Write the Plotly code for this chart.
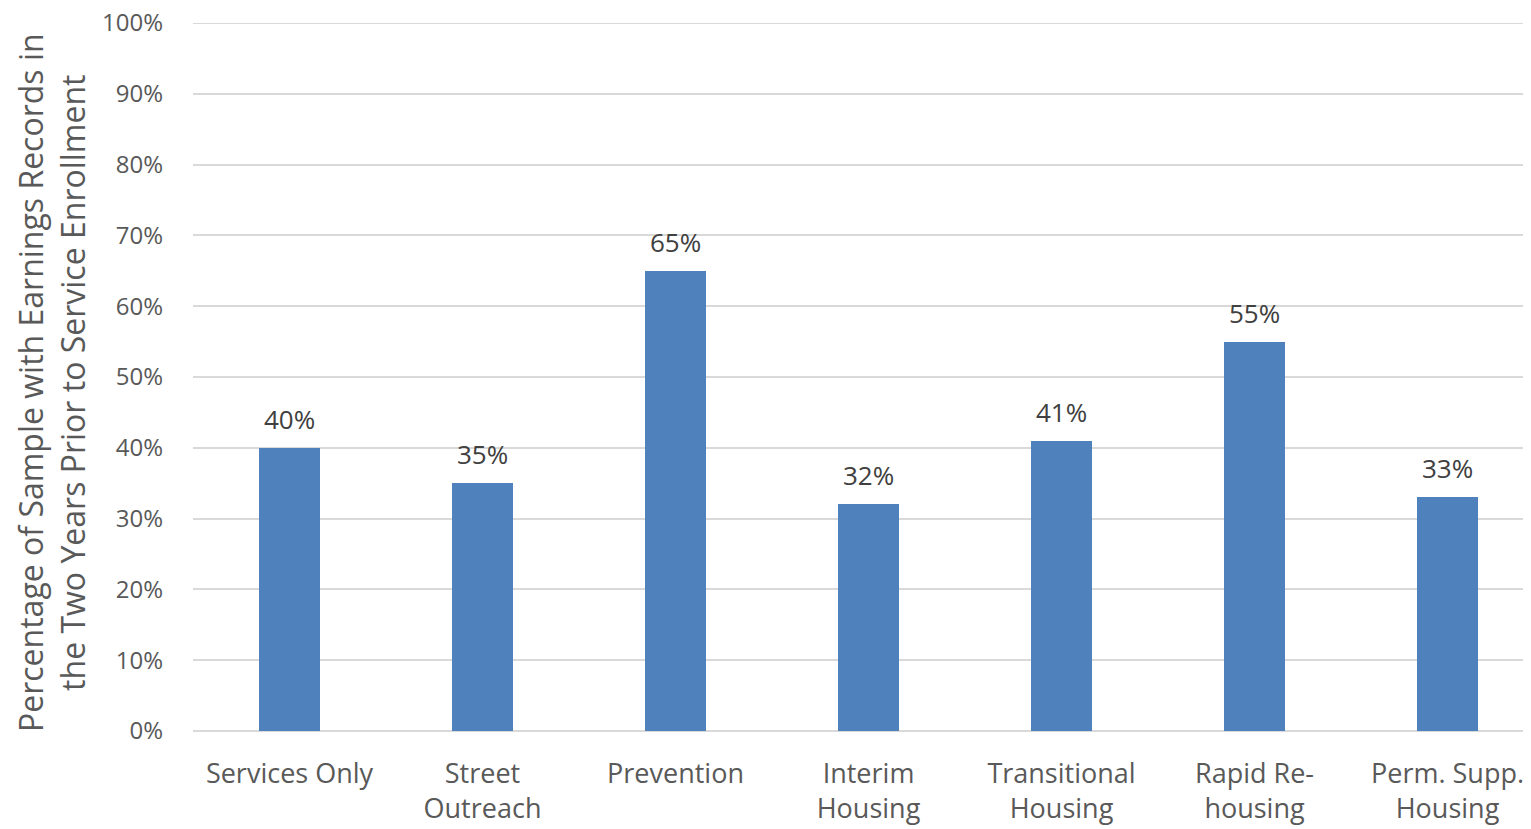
import plotly.graph_objects as go

categories = ["Services Only", "Street<br>Outreach", "Prevention", "Interim<br>Housing",
              "Transitional<br>Housing", "Rapid Re-<br>housing", "Perm. Supp.<br>Housing"]
values = [0.40, 0.35, 0.65, 0.32, 0.41, 0.55, 0.33]
y_ticks = [0, 0.1, 0.2, 0.3, 0.4, 0.5, 0.6, 0.7, 0.8, 0.9, 1.0]
y_title = "Percentage of Sample with Earnings Records in<br>the Two Years Prior to Service Enrollment"

FONT = "Open Sans"
OFF = 8  # page body margin
PLOT_L, PLOT_T, PLOT_B, PLOT_R = 193, 23, 731, 1531
W, H = 1531 - OFF, 829 - OFF
plot_w = PLOT_R - PLOT_L
plot_h = PLOT_B - PLOT_T

fig = go.Figure(go.Bar(
    x=list(range(len(categories))),
    y=values,
    width=0.316,
    marker=dict(color="#4F81BD", line=dict(width=0)),
    cliponaxis=False,
))

annotations = [dict(
    x=i, y=v, xref="x", yref="y", text=f"{round(v*100)}%",
    xanchor="center", yanchor="bottom", yshift=9, showarrow=False,
    font=dict(family=FONT, size=26, color="#404040"),
) for i, v in enumerate(values)]

annotations.append(dict(
    text=y_title, textangle=-90,
    xref="paper", yref="paper",
    x=(51 - PLOT_L) / plot_w, y=(PLOT_B - 383) / plot_h,
    xanchor="center", yanchor="middle",
    showarrow=False,
    font=dict(family=FONT, size=32, color="#595959"),
))

fig.update_layout(
    width=W, height=H,
    margin=dict(l=PLOT_L - OFF, r=max(0, OFF + W - PLOT_R), t=PLOT_T - OFF,
                b=H + OFF - PLOT_B, autoexpand=False),
    plot_bgcolor="white", paper_bgcolor="white",
    showlegend=False,
    bargap=0,
    font=dict(family=FONT, color="#595959"),
    xaxis=dict(
        tickmode="array",
        tickvals=list(range(len(categories))),
        ticktext=categories,
        range=[-0.5, -0.5 + plot_w / 193],
        showgrid=False, zeroline=False, showline=False,
        tickfont=dict(family=FONT, size=27, color="#595959"),
        ticks="", ticklabelstandoff=24,
        automargin=False, ticklabeloverflow="allow",
    ),
    yaxis=dict(
        range=[0, 1.0],
        tickvals=y_ticks,
        tickformat=".0%",
        showgrid=True, gridcolor="#D9D9D9", gridwidth=2,
        zeroline=True, zerolinecolor="#D9D9D9", zerolinewidth=2,
        showline=False,
        tickfont=dict(family=FONT, size=24, color="#595959"),
        ticks="", ticklabelstandoff=29,
        automargin=False, ticklabeloverflow="allow",
    ),
    shapes=[dict(type="line", xref="paper", yref="y", x0=0, x1=1, y0=1.0, y1=1.0,
                 line=dict(color="#D9D9D9", width=2), layer="below")],
    annotations=annotations,
)

fig.write_html("out.html")
